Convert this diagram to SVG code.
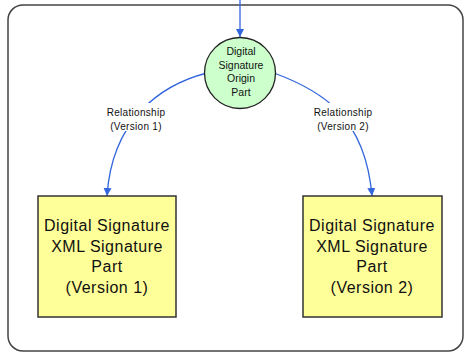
<svg xmlns="http://www.w3.org/2000/svg" width="464" height="352" viewBox="0 0 464 352">
<defs>
<style>
.frame{fill:#ffffff;stroke:#444444;stroke-width:1.5}
.part{fill:#ffff99;stroke:#333333;stroke-width:1.5}
.origin{fill:#ccffcc;stroke:#222222;stroke-width:1.3}
.conn{fill:none;stroke:#3366dd;stroke-width:1.3}
.big{font-family:"Liberation Sans","DejaVu Sans",sans-serif;font-size:16px;letter-spacing:0.5px;fill:#111111;text-anchor:middle}
.small{font-family:"Liberation Sans","DejaVu Sans",sans-serif;font-size:10.5px;fill:#111111;text-anchor:middle}
.lbl{font-family:"Liberation Sans","DejaVu Sans",sans-serif;font-size:10px;letter-spacing:0.3px;fill:#111111;text-anchor:middle}
</style>
<marker id="arr" viewBox="0 0 10 10" refX="10" refY="5" markerWidth="8" markerHeight="9" markerUnits="userSpaceOnUse" orient="auto">
<path d="M0,0 L10,5 L0,10 Z" fill="#3366dd"/>
</marker>
</defs>
<rect class="frame" x="8" y="5" width="455" height="346" rx="15"/>
<g id="connectors">
<path class="conn" d="M240,0 L240,37" marker-end="url(#arr)"/>
<path class="conn" d="M207,73 C160,85 112,120 107,196" marker-end="url(#arr)"/>
<path class="conn" d="M274,73 C320,90 365,115 372,196" marker-end="url(#arr)"/>
<g id="label1">
<rect x="104" y="103" width="64" height="28" fill="#ffffff"/>
<text class="lbl" x="136" y="116">Relationship</text>
<text class="lbl" x="136" y="130">(Version 1)</text>
</g>
<g id="label2">
<rect x="311" y="103" width="64" height="28" fill="#ffffff"/>
<text class="lbl" x="343" y="116">Relationship</text>
<text class="lbl" x="343" y="130">(Version 2)</text>
</g>
</g>
<g id="origin">
<circle class="origin" cx="240" cy="73" r="35.5"/>
<text class="small" x="241" y="55">Digital</text>
<text class="small" x="241" y="68.5">Signature</text>
<text class="small" x="241" y="82">Origin</text>
<text class="small" x="241" y="95.5">Part</text>
</g>
<g id="part1">
<rect class="part" x="38" y="196" width="138" height="121"/>
<text class="big" x="107" y="231">Digital Signature</text>
<text class="big" x="107" y="251.5">XML Signature</text>
<text class="big" x="107" y="272">Part</text>
<text class="big" x="107" y="292.5">(Version 1)</text>
</g>
<g id="part2">
<rect class="part" x="303" y="196" width="139" height="121"/>
<text class="big" x="372" y="231">Digital Signature</text>
<text class="big" x="372" y="251.5">XML Signature</text>
<text class="big" x="372" y="272">Part</text>
<text class="big" x="372" y="292.5">(Version 2)</text>
</g>
</svg>
